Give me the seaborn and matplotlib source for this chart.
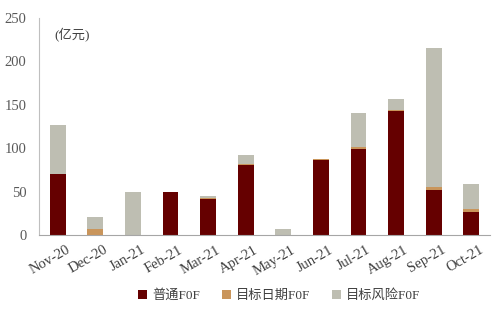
import matplotlib
matplotlib.use("Agg")
import matplotlib.pyplot as plt
import matplotlib.transforms as mtransforms
import seaborn as sns
import numpy as np
import pandas as pd
from matplotlib.patches import Patch

months = ["Nov-20", "Dec-20", "Jan-21", "Feb-21", "Mar-21", "Apr-21",
          "May-21", "Jun-21", "Jul-21", "Aug-21", "Sep-21", "Oct-21"]
ordinary = [70, 0, 0, 50, 42, 81, 0, 87, 99, 143, 52.5, 26.5]
target_date = [0.5, 6.5, 0, 0, 1, 1, 0, 1, 2, 1, 3, 3.5]
target_risk = [56.5, 14, 50, 0, 2, 10, 6.5, 0, 39.5, 13, 159.5, 29]
series_names = ["普通F0F", "目标日期F0F", "目标风险F0F"]
colors = ["#650000", "#C9955B", "#BEBEB2"]

sns.set_theme(style="white")
plt.rcParams['font.family'] = ['Liberation Serif', 'Noto Sans CJK SC']

df = pd.DataFrame({"month": months, "ordinary": ordinary,
                   "date": target_date, "risk": target_risk})
df["c1"] = df["ordinary"]
df["c2"] = df["ordinary"] + df["date"]
df["c3"] = df["c2"] + df["risk"]

fig = plt.figure(figsize=(4.99, 3.11), dpi=100)
ax = fig.add_axes([0.078, 0.244, 0.904, 0.698])

for col, c in zip(["c3", "c2", "c1"], colors[::-1]):
    sns.barplot(data=df, x="month", y=col, color=c, width=0.42,
                saturation=1, ax=ax, order=months, edgecolor="none", linewidth=0)

ax.set_xlim(-0.5, 11.5)
ax.set_ylim(0, 250)
ax.set_yticks(range(0, 251, 50))
ax.set_xlabel("")
ax.set_ylabel("")
for s in ["top", "right"]:
    ax.spines[s].set_visible(False)
ax.spines["left"].set_color("#BFBFBF")
ax.spines["bottom"].set_color("#A6A6A6")
ax.spines["left"].set_linewidth(0.8)
ax.spines["bottom"].set_linewidth(0.8)

ax.tick_params(axis="y", length=0, labelsize=10.5, labelcolor="#595959", pad=9)
ax.tick_params(axis="x", which="major", length=0, labelsize=10.5, labelcolor="#404040", pad=6)
ax.set_xticks(np.arange(-0.5, 12, 1), minor=True)
ax.tick_params(axis="x", which="minor", length=4, color="#A6A6A6", width=0.8, direction="out")
offset = mtransforms.ScaledTranslation(8 / 100, 0, fig.dpi_scale_trans)
for lbl in ax.get_xticklabels():
    lbl.set_rotation(30)
    lbl.set_ha("right")
    lbl.set_rotation_mode("anchor")
    lbl.set_transform(lbl.get_transform() + offset)

ax.text(0.035, 0.955, "(亿元)", transform=ax.transAxes, fontsize=9.5,
        color="#404040", va="top", ha="left")

handles = [Patch(facecolor=c, edgecolor="none") for c in colors]
fig.legend(handles, series_names, loc="center", bbox_to_anchor=(0.56, 0.05),
           ncol=3, frameon=False, fontsize=9.5, handlelength=0.7, handleheight=0.7,
           handletextpad=0.4, columnspacing=1.6, labelcolor="#404040")

fig.savefig("out.png", dpi=100, facecolor="white")
